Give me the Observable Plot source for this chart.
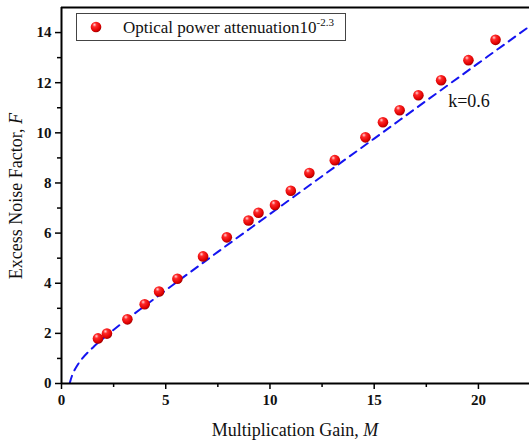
<!DOCTYPE html>
<html>
<head>
<meta charset="utf-8">
<script src="https://cdn.jsdelivr.net/npm/d3@7"></script>
<script src="https://cdn.jsdelivr.net/npm/@observablehq/plot@0.6"></script>
<style>
  html, body { margin: 0; padding: 0; background: #fff; }
  #chart { position: relative; width: 529px; height: 445px; }
</style>
</head>
<body>
<div id="chart"></div>
<script>
// Measured points: multiplication gain M and excess noise factor F
const gainM = [1.75, 2.18, 3.16, 3.99, 4.68, 5.56, 6.79, 7.93, 8.97, 9.45, 10.24, 11.0, 11.89, 13.11, 14.58, 15.42, 16.22, 17.12, 18.21, 19.52, 20.82];
const noiseF = [1.80, 1.99, 2.56, 3.16, 3.67, 4.18, 5.07, 5.83, 6.50, 6.81, 7.12, 7.69, 8.40, 8.91, 9.82, 10.42, 10.90, 11.50, 12.10, 12.90, 13.71];

// Dashed theoretical curve (k = 0.6)
const curveM = [0.39, 0.5, 0.6, 0.8, 1.0, 1.5, 2.0, 3.0, 4.0, 5.0, 7.5, 10.0, 12.5, 15.0, 17.5, 20.0, 22.45];
const curveF = [0.0, 0.3, 0.49, 0.78, 1.0, 1.43, 1.8, 2.47, 3.1, 3.72, 5.25, 6.76, 8.27, 9.77, 11.28, 12.78, 14.25];

const xTicks = [0, 5, 10, 15, 20];
const xMinor = [2.5, 7.5, 12.5, 17.5, 22.5];
const yTicks = [0, 2, 4, 6, 8, 10, 12, 14];
const yMinor = [1, 3, 5, 7, 9, 11, 13];

const legendLabel = "Optical power attenuation10";
const legendSup = "-2.3";
const annotation = [{M: 18.55, F: 11.27, label: "k=0.6"}];

const points = gainM.map((m, i) => ({M: m, F: noiseF[i]}));
const curve = curveM.map((m, i) => ({M: m, F: curveF[i]}));

const serif = "'Liberation Serif', 'Times New Roman', serif";

const plot = Plot.plot({
  width: 529,
  height: 445,
  marginLeft: 61,
  marginRight: 0,
  marginTop: 7,
  marginBottom: 62,
  x: {domain: [0, 22.45]},
  y: {domain: [0, 15]},
  marks: [
    Plot.line(curve, {x: "M", y: "F", stroke: "#1414f0", strokeWidth: 2, strokeDasharray: "8,6", clip: true, curve: "monotone-x"}),
    Plot.dot(points, {x: "M", y: "F", r: 5.3, fill: "url(#ball)", stroke: "none"}),
    Plot.text(annotation, {x: "M", y: "F", text: "label", textAnchor: "start", fontSize: 18, fill: "#111"}),
    Plot.axisX({ticks: xTicks, tickSize: 6, tickPadding: 5, fontSize: 15, label: null, strokeWidth: 1.5, tickFormat: d => d}),
    Plot.axisX({ticks: xMinor, tickSize: 4, text: null, label: null, strokeWidth: 1.5}),
    Plot.axisY({ticks: yTicks, tickSize: 6, tickPadding: 4, fontSize: 15, label: null, strokeWidth: 1.5}),
    Plot.axisY({ticks: yMinor, tickSize: 4, text: null, label: null, strokeWidth: 1.5}),
    Plot.ruleX([0], {stroke: "#000", strokeWidth: 2}),
    Plot.ruleY([0], {stroke: "#000", strokeWidth: 2}),
    Plot.ruleY([15], {stroke: "#000", strokeWidth: 2})
  ]
});

document.getElementById("chart").appendChild(plot);
const svg = d3.select(plot);
svg.style("background", "#fff");

// Serif everywhere, bold tick labels
svg.selectAll("text").style("font-family", serif);
svg.selectAll('g[aria-label$="tick label"] text').style("font-weight", "bold").style("fill", "#111");

// Gradient for shiny red balls
const defs = svg.insert("defs", ":first-child");
const grad = defs.append("radialGradient").attr("id", "ball")
  .attr("cx", "0.4").attr("cy", "0.35").attr("r", "0.65").attr("fx", "0.35").attr("fy", "0.28");
grad.append("stop").attr("offset", "0").attr("stop-color", "#ffd8d8");
grad.append("stop").attr("offset", "0.3").attr("stop-color", "#ff2a2a");
grad.append("stop").attr("offset", "0.8").attr("stop-color", "#e00000");
grad.append("stop").attr("offset", "1").attr("stop-color", "#a00000");

// Legend box (inside the plot area)
const lg = svg.append("g");
lg.append("rect").attr("x", 76.5).attr("y", 13.5).attr("width", 269).attr("height", 27)
  .attr("fill", "#fff").attr("stroke", "#444").attr("stroke-width", 1);
lg.append("circle").attr("cx", 96).attr("cy", 27).attr("r", 5.3).attr("fill", "url(#ball)");
const lt = lg.append("text").attr("x", 123).attr("y", 33)
  .style("text-anchor", "start").style("font-family", serif).style("font-size", "17px").style("fill", "#111");
lt.append("tspan").text(legendLabel);
lt.append("tspan").attr("dy", -7).style("font-size", "11px").text(legendSup);

// Axis titles with italic variable names
const xt = svg.append("text").attr("x", 295).attr("y", 436)
  .style("text-anchor", "middle").style("font-family", serif).style("font-size", "18px").style("fill", "#111");
xt.append("tspan").text("Multiplication Gain, ");
xt.append("tspan").style("font-style", "italic").text("M");

const yt = svg.append("text").attr("transform", "translate(22,196) rotate(-90)")
  .style("text-anchor", "middle").style("font-family", serif).style("font-size", "18px").style("fill", "#111");
yt.append("tspan").text("Excess Noise Factor, ");
yt.append("tspan").style("font-style", "italic").text("F");
</script>
</body>
</html>
